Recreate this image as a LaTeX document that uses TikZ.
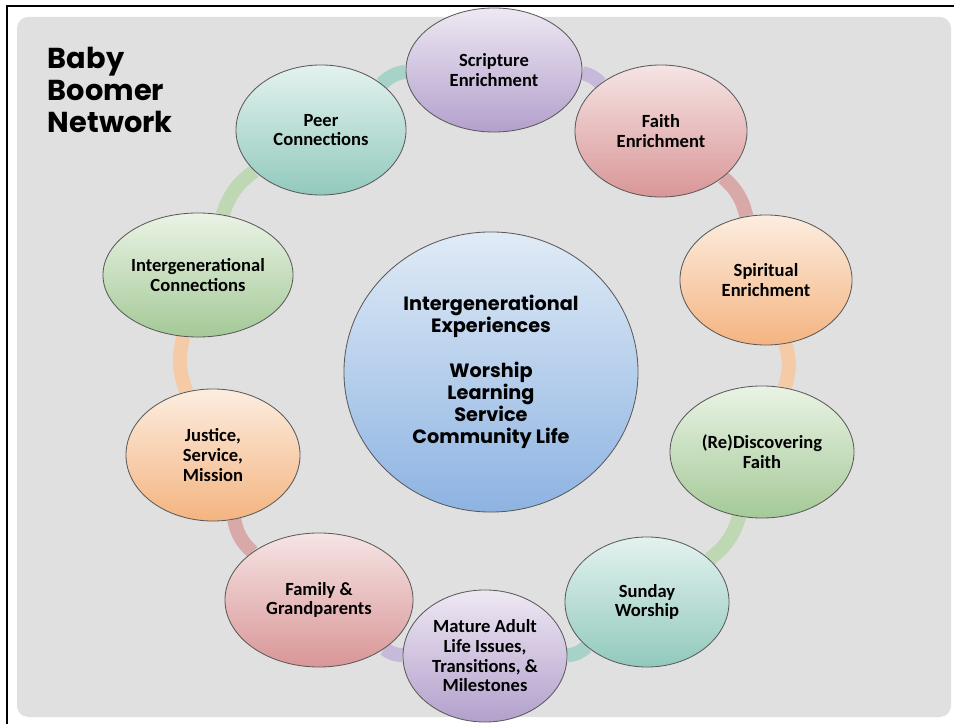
\documentclass[tikz,border=0pt]{standalone}
\usepackage{fontspec}
\newfontfamily\cali{Carlito}
\newfontfamily\gothic{Poppins}
\usepackage{xcolor}
\definecolor{panelgrey}{HTML}{E0E0E0}
\definecolor{edgegrey}{HTML}{5A5A5A}
\definecolor{purptop}{HTML}{EEE8F3}
\definecolor{purpbot}{HTML}{B3A0CC}
\definecolor{redtop}{HTML}{F6E4E4}
\definecolor{redbot}{HTML}{D99697}
\definecolor{orantop}{HTML}{FCEDE0}
\definecolor{oranbot}{HTML}{F4B480}
\definecolor{grentop}{HTML}{EAF3E5}
\definecolor{grenbot}{HTML}{A4C997}
\definecolor{tealtop}{HTML}{E3F2EF}
\definecolor{tealbot}{HTML}{92C9BD}
\definecolor{bluetop}{HTML}{E0EBF6}
\definecolor{bluebot}{HTML}{8DB3E2}
\definecolor{purplink}{HTML}{C6B9D9}
\definecolor{redlink}{HTML}{D9A8A9}
\definecolor{oranlink}{HTML}{F5CAA6}
\definecolor{grenlink}{HTML}{BFD8B4}
\definecolor{teallink}{HTML}{A6D2C8}
\usepackage{tikz}
\usetikzlibrary{shapes.geometric,backgrounds}

\begin{document}
\begin{tikzpicture}[
  x=0.025cm, y=0.025cm,
  bub/.style={ellipse, draw=edgegrey, line width=0.6pt, inner sep=0pt,
              minimum width=4.3cm, minimum height=3.25cm,
              font=\cali\bfseries\fontsize{13.2}{14}\selectfont, align=center},
  purp/.style={bub, top color=purptop, bottom color=purpbot},
  rose/.style={bub, top color=redtop, bottom color=redbot},
  oran/.style={bub, top color=orantop, bottom color=oranbot},
  gren/.style={bub, top color=grentop, bottom color=grenbot},
  teal/.style={bub, top color=tealtop, bottom color=tealbot},
  ring/.style={line width=10pt, draw=#1, bend left=18}
]
  \useasboundingbox (0,0) rectangle (954,724);
  \begin{scope}[on background layer]
    \fill[panelgrey, rounded corners=8pt] (17,7) rectangle (951,707);
  \end{scope}
  \draw[line width=1.6pt] (7,0) -- (7,718) -- (954,718);

  \node[anchor=north west, align=left, font=\gothic\bfseries\fontsize{20.5}{22.8}\selectfont]
    (title) at (43,682) {Baby\\Boomer\\Network};

  \node[bub, top color=bluetop, bottom color=bluebot,
        minimum width=7.35cm, minimum height=7cm,
        font=\gothic\bfseries\fontsize{13.7}{15.8}\selectfont] (cen) at (491,352)
    {Intergenerational\\Experiences\\[15.8pt]Worship\\Learning\\Service\\Community Life};

  \node[purp, minimum width=4.4cm, minimum height=3.1cm] (scr) at (494,654) {Scripture\\Enrichment};
  \node[rose, minimum height=3.3cm] (fai) at (661,593) {Faith\\Enrichment};
  \node[oran] (spi) at (766,444) {Spiritual\\Enrichment};
  \node[gren, minimum width=4.6cm, minimum height=3.3cm] (red) at (762,272) {(Re)Discovering\\Faith};
  \node[teal, minimum width=4.1cm] (sun) at (647,122) {Sunday\\Worship};
  \node[purp, minimum width=4.1cm, minimum height=3.3cm] (mat) at (485,68)
    {Mature Adult\\Life Issues,\\Transitions, \&\\Milestones};
  \node[rose, minimum width=4.7cm, minimum height=3.35cm] (fam) at (319,124) {Family \&\\Grandparents};
  \node[oran, minimum width=4.35cm, minimum height=3.3cm] (jus) at (213,269) {Justice,\\Service,\\Mission};
  \node[gren, minimum width=4.75cm, minimum height=3.1cm] (icn) at (198,449) {Intergenerational\\Connections};
  \node[teal, minimum width=4.25cm] (peer) at (321,594) {Peer\\Connections};

  \begin{scope}[on background layer]
    \draw[ring=purplink] (scr) to (fai);
    \draw[ring=redlink] (fai) to (spi);
    \draw[ring=oranlink] (spi) to (red);
    \draw[ring=grenlink] (red) to (sun);
    \draw[ring=teallink] (sun) to (mat);
    \draw[ring=purplink] (mat) to (fam);
    \draw[ring=redlink] (fam) to (jus);
    \draw[ring=oranlink] (jus) to (icn);
    \draw[ring=grenlink] (icn) to (peer);
    \draw[ring=teallink] (peer) to (scr);
  \end{scope}
\end{tikzpicture}
\end{document}
